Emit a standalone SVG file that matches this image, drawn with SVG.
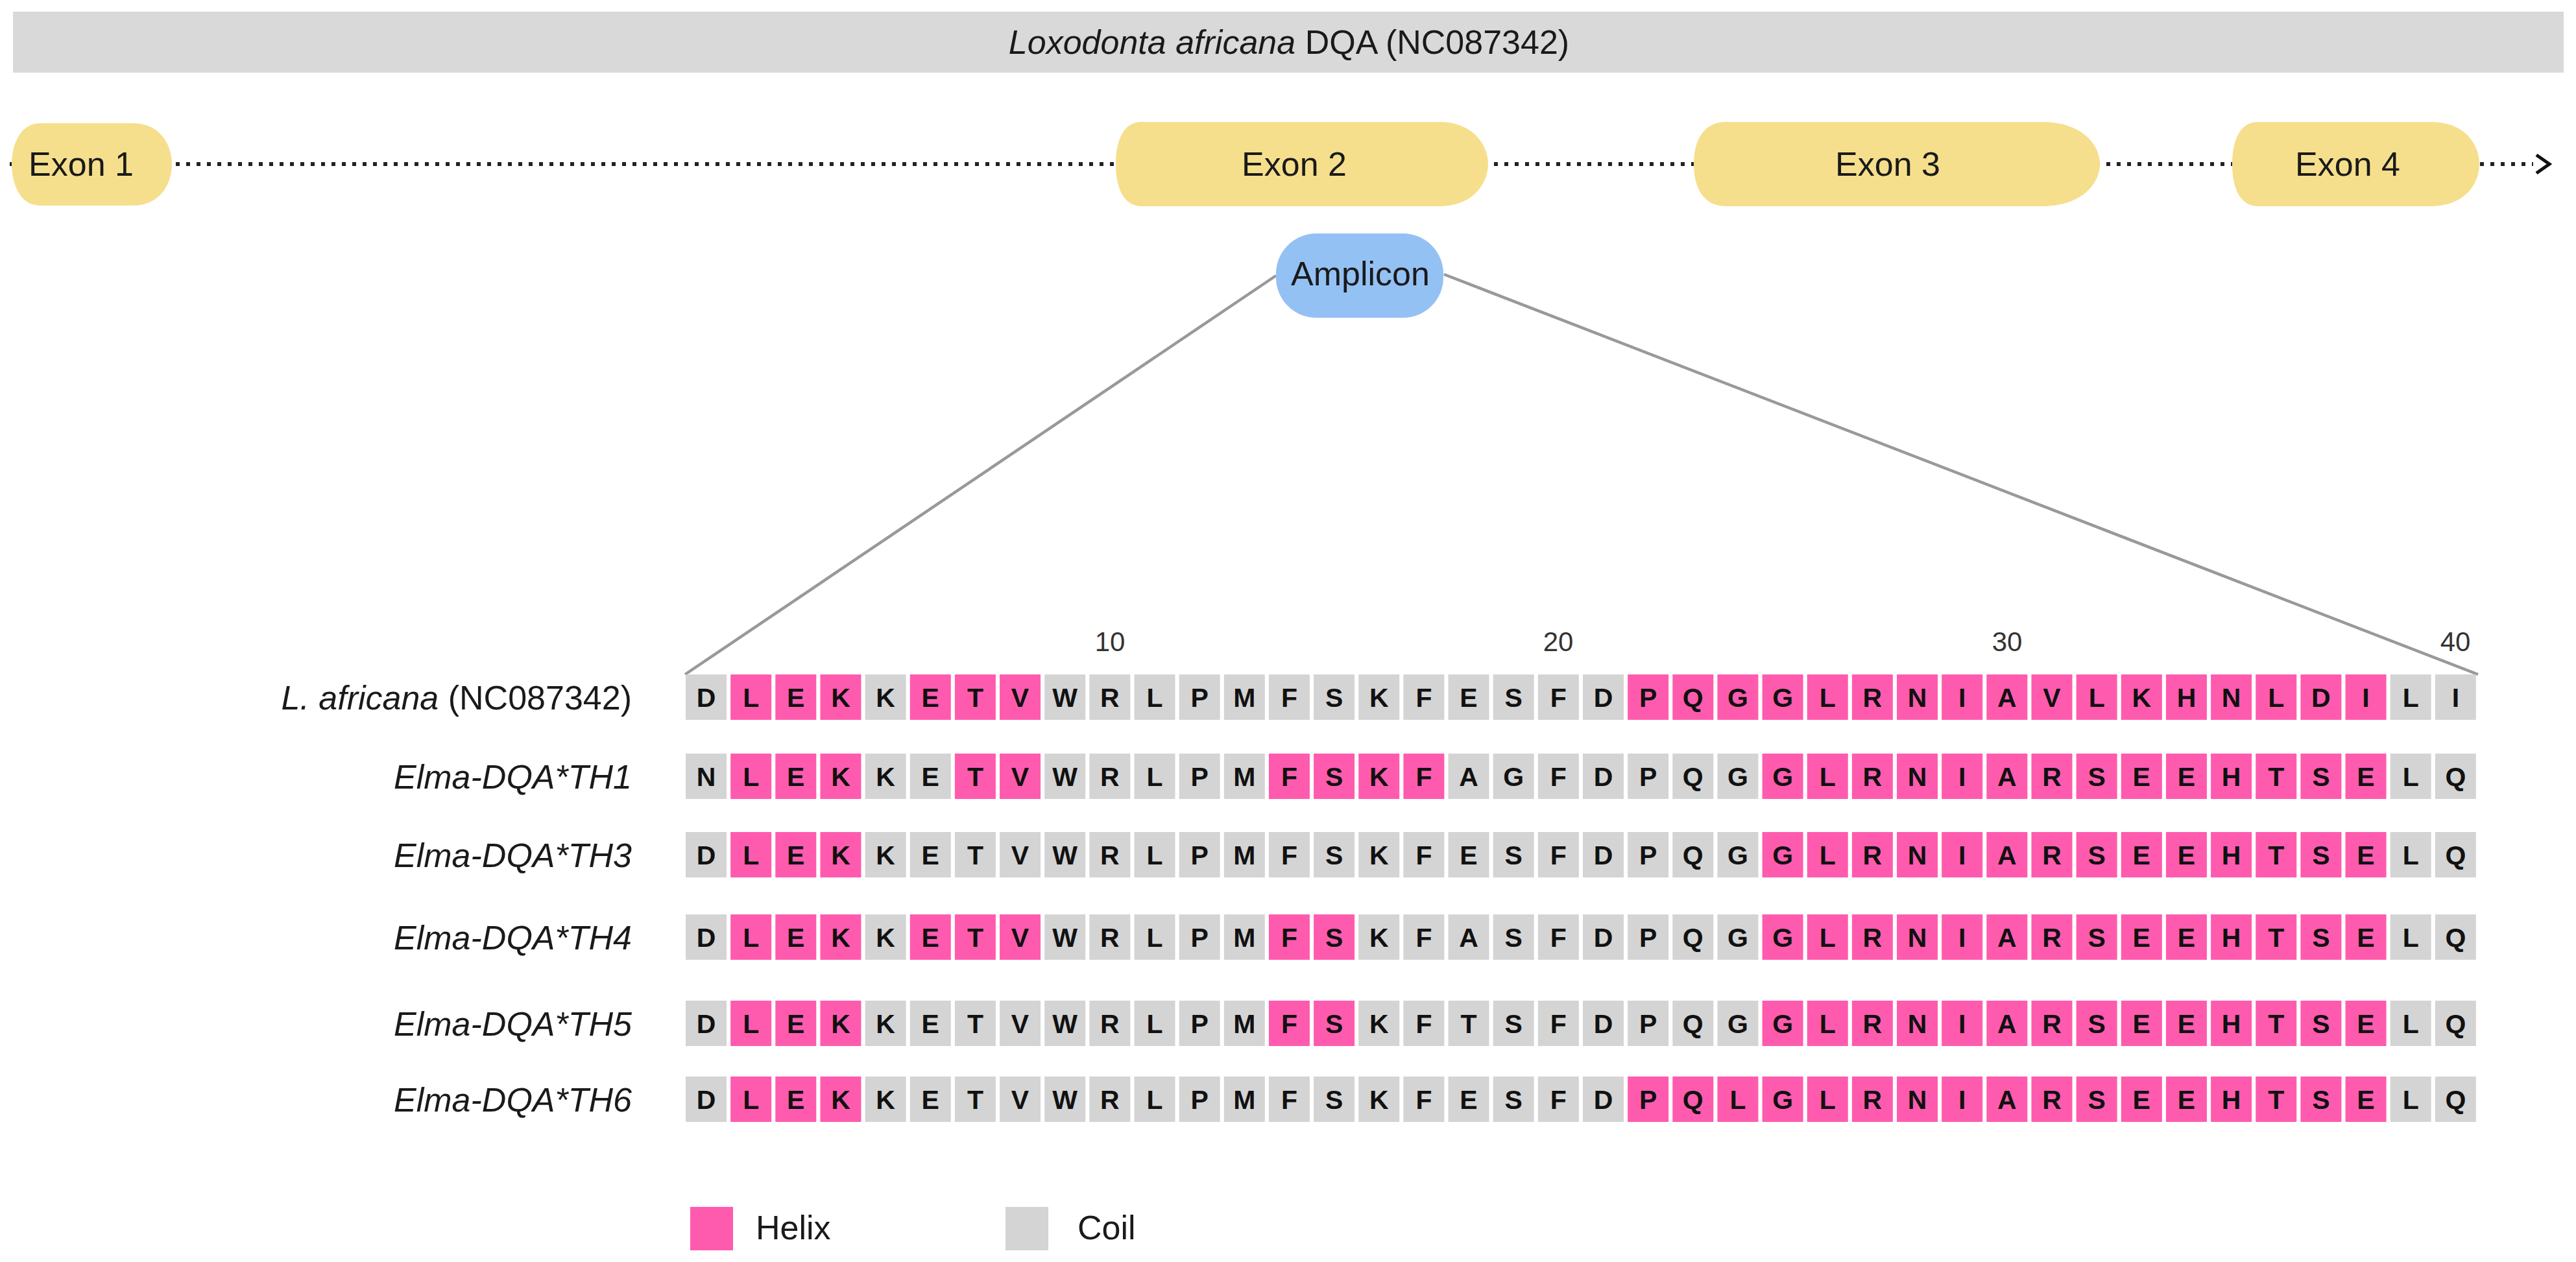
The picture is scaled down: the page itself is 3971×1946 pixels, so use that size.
<svg xmlns="http://www.w3.org/2000/svg" xmlns:xlink="http://www.w3.org/1999/xlink" width="3971" height="1946" viewBox="0 0 3971 1946">
<style>
text{font-family:"Liberation Sans",Arial,sans-serif;fill:#1a1a1a}
.t52{font-size:52px}
.lab{font-size:52px;font-style:italic;text-anchor:end}
.mid{text-anchor:middle}
.aa{font-size:41px;font-weight:bold;text-anchor:middle;fill:#111}
.num{font-size:42px;text-anchor:middle;fill:#333}
.exon{fill:#F6DF8C}
.conn{stroke:#999999;stroke-width:4.5;fill:none}
</style>
<defs>
<rect id="g" width="63" height="70" fill="#D4D4D4"/>
<rect id="p" width="63" height="70" fill="#FF5BAE"/>
</defs>
<rect width="3971" height="1946" fill="#ffffff"/>

<g id="title">
<rect x="20" y="18" width="3932" height="94" fill="#D9D9D9"/>
<text class="t52 mid" x="1987" y="83"><tspan font-style="italic">Loxodonta africana</tspan> DQA (NC087342)</text>
</g>

<g id="connectors">
<line x1="15" y1="253" x2="3905" y2="253" stroke="#222" stroke-width="6" stroke-dasharray="6 10"/>
<path d="M3910,239 L3930,253 L3910,267" stroke="#111" stroke-width="5" fill="none"/>
<line class="conn" x1="1967" y1="425" x2="1056" y2="1040"/>
<line class="conn" x1="2226" y1="423" x2="3820" y2="1040"/>
</g>

<g id="exon1">
<path class="exon" d="M62,190 H205 C248,190 265,225 265,253 C265,282 248,317 205,317 H62 C30,317 18,282 18,253 C18,225 30,190 62,190 Z"/>
<text class="t52 mid" x="125" y="271">Exon 1</text>
</g>
<g id="exon2">
<path class="exon" d="M1760,188 H2219 C2272,188 2294,225 2294,253 C2294,281 2272,318 2219,318 H1760 C1732,318 1720,290 1720,253 C1720,216 1732,188 1760,188 Z"/>
<text class="t52 mid" x="1995" y="271">Exon 2</text>
</g>
<g id="exon3">
<path class="exon" d="M2661,188 H3147 C3212,188 3237,225 3237,253 C3237,281 3212,318 3147,318 H2661 C2626,318 2611,290 2611,253 C2611,216 2626,188 2661,188 Z"/>
<text class="t52 mid" x="2910" y="271">Exon 3</text>
</g>
<g id="exon4">
<path class="exon" d="M3481,188 H3747 C3802,188 3822,225 3822,253 C3822,281 3802,318 3747,318 H3481 C3453,318 3441,290 3441,253 C3441,216 3453,188 3481,188 Z"/>
<text class="t52 mid" x="3619" y="271">Exon 4</text>
</g>

<g id="amplicon">
<rect x="1967" y="360" width="258" height="130" rx="62" fill="#94C1F4"/>
<text class="t52 mid" x="2097" y="440">Amplicon</text>
</g>

<g id="positions">
<text class="num" x="1711" y="1004">10</text>
<text class="num" x="2402" y="1004">20</text>
<text class="num" x="3094" y="1004">30</text>
<text class="num" x="3785" y="1004">40</text>
</g>

<g id="labels">
<text class="lab" x="974" y="1094">L. africana<tspan font-style="normal"> (NC087342)</tspan></text>
<text class="lab" x="974" y="1216">Elma-DQA*TH1</text>
<text class="lab" x="974" y="1337">Elma-DQA*TH3</text>
<text class="lab" x="974" y="1464">Elma-DQA*TH4</text>
<text class="lab" x="974" y="1597">Elma-DQA*TH5</text>
<text class="lab" x="974" y="1714">Elma-DQA*TH6</text>
</g>

<g id="row-africana" transform="translate(1057,1040)">
<use href="#g" x="0"/><use href="#p" x="69.15"/><use href="#p" x="138.3"/><use href="#p" x="207.45"/><use href="#g" x="276.6"/><use href="#p" x="345.75"/><use href="#p" x="414.9"/><use href="#p" x="484.05"/><use href="#g" x="553.2"/><use href="#g" x="622.35"/><use href="#g" x="691.5"/><use href="#g" x="760.65"/><use href="#g" x="829.8"/><use href="#g" x="898.95"/><use href="#g" x="968.1"/><use href="#g" x="1037.25"/><use href="#g" x="1106.4"/><use href="#g" x="1175.55"/><use href="#g" x="1244.7"/><use href="#g" x="1313.85"/><use href="#g" x="1383"/><use href="#p" x="1452.15"/><use href="#p" x="1521.3"/><use href="#p" x="1590.45"/><use href="#p" x="1659.6"/><use href="#p" x="1728.75"/><use href="#p" x="1797.9"/><use href="#p" x="1867.05"/><use href="#p" x="1936.2"/><use href="#p" x="2005.35"/><use href="#p" x="2074.5"/><use href="#p" x="2143.65"/><use href="#p" x="2212.8"/><use href="#p" x="2281.95"/><use href="#p" x="2351.1"/><use href="#p" x="2420.25"/><use href="#p" x="2489.4"/><use href="#p" x="2558.55"/><use href="#g" x="2627.7"/><use href="#g" x="2696.85"/>
<text class="aa" y="50" x="31.5 100.65 169.8 238.95 308.1 377.25 446.4 515.55 584.7 653.85 723 792.15 861.3 930.45 999.6 1068.75 1137.9 1207.05 1276.2 1345.35 1414.5 1483.65 1552.8 1621.95 1691.1 1760.25 1829.4 1898.55 1967.7 2036.85 2106 2175.15 2244.3 2313.45 2382.6 2451.75 2520.9 2590.05 2659.2 2728.35">DLEKKETVWRLPMFSKFESFDPQGGLRNIAVLKHNLDILI</text>
</g>

<g id="row-TH1" transform="translate(1057,1162)">
<use href="#g" x="0"/><use href="#p" x="69.15"/><use href="#p" x="138.3"/><use href="#p" x="207.45"/><use href="#g" x="276.6"/><use href="#g" x="345.75"/><use href="#p" x="414.9"/><use href="#p" x="484.05"/><use href="#g" x="553.2"/><use href="#g" x="622.35"/><use href="#g" x="691.5"/><use href="#g" x="760.65"/><use href="#g" x="829.8"/><use href="#p" x="898.95"/><use href="#p" x="968.1"/><use href="#p" x="1037.25"/><use href="#p" x="1106.4"/><use href="#g" x="1175.55"/><use href="#g" x="1244.7"/><use href="#g" x="1313.85"/><use href="#g" x="1383"/><use href="#g" x="1452.15"/><use href="#g" x="1521.3"/><use href="#g" x="1590.45"/><use href="#p" x="1659.6"/><use href="#p" x="1728.75"/><use href="#p" x="1797.9"/><use href="#p" x="1867.05"/><use href="#p" x="1936.2"/><use href="#p" x="2005.35"/><use href="#p" x="2074.5"/><use href="#p" x="2143.65"/><use href="#p" x="2212.8"/><use href="#p" x="2281.95"/><use href="#p" x="2351.1"/><use href="#p" x="2420.25"/><use href="#p" x="2489.4"/><use href="#p" x="2558.55"/><use href="#g" x="2627.7"/><use href="#g" x="2696.85"/>
<text class="aa" y="50" x="31.5 100.65 169.8 238.95 308.1 377.25 446.4 515.55 584.7 653.85 723 792.15 861.3 930.45 999.6 1068.75 1137.9 1207.05 1276.2 1345.35 1414.5 1483.65 1552.8 1621.95 1691.1 1760.25 1829.4 1898.55 1967.7 2036.85 2106 2175.15 2244.3 2313.45 2382.6 2451.75 2520.9 2590.05 2659.2 2728.35">NLEKKETVWRLPMFSKFAGFDPQGGLRNIARSEEHTSELQ</text>
</g>

<g id="row-TH3" transform="translate(1057,1283)">
<use href="#g" x="0"/><use href="#p" x="69.15"/><use href="#p" x="138.3"/><use href="#p" x="207.45"/><use href="#g" x="276.6"/><use href="#g" x="345.75"/><use href="#g" x="414.9"/><use href="#g" x="484.05"/><use href="#g" x="553.2"/><use href="#g" x="622.35"/><use href="#g" x="691.5"/><use href="#g" x="760.65"/><use href="#g" x="829.8"/><use href="#g" x="898.95"/><use href="#g" x="968.1"/><use href="#g" x="1037.25"/><use href="#g" x="1106.4"/><use href="#g" x="1175.55"/><use href="#g" x="1244.7"/><use href="#g" x="1313.85"/><use href="#g" x="1383"/><use href="#g" x="1452.15"/><use href="#g" x="1521.3"/><use href="#g" x="1590.45"/><use href="#p" x="1659.6"/><use href="#p" x="1728.75"/><use href="#p" x="1797.9"/><use href="#p" x="1867.05"/><use href="#p" x="1936.2"/><use href="#p" x="2005.35"/><use href="#p" x="2074.5"/><use href="#p" x="2143.65"/><use href="#p" x="2212.8"/><use href="#p" x="2281.95"/><use href="#p" x="2351.1"/><use href="#p" x="2420.25"/><use href="#p" x="2489.4"/><use href="#p" x="2558.55"/><use href="#g" x="2627.7"/><use href="#g" x="2696.85"/>
<text class="aa" y="50" x="31.5 100.65 169.8 238.95 308.1 377.25 446.4 515.55 584.7 653.85 723 792.15 861.3 930.45 999.6 1068.75 1137.9 1207.05 1276.2 1345.35 1414.5 1483.65 1552.8 1621.95 1691.1 1760.25 1829.4 1898.55 1967.7 2036.85 2106 2175.15 2244.3 2313.45 2382.6 2451.75 2520.9 2590.05 2659.2 2728.35">DLEKKETVWRLPMFSKFESFDPQGGLRNIARSEEHTSELQ</text>
</g>

<g id="row-TH4" transform="translate(1057,1410)">
<use href="#g" x="0"/><use href="#p" x="69.15"/><use href="#p" x="138.3"/><use href="#p" x="207.45"/><use href="#g" x="276.6"/><use href="#p" x="345.75"/><use href="#p" x="414.9"/><use href="#p" x="484.05"/><use href="#g" x="553.2"/><use href="#g" x="622.35"/><use href="#g" x="691.5"/><use href="#g" x="760.65"/><use href="#g" x="829.8"/><use href="#p" x="898.95"/><use href="#p" x="968.1"/><use href="#g" x="1037.25"/><use href="#g" x="1106.4"/><use href="#g" x="1175.55"/><use href="#g" x="1244.7"/><use href="#g" x="1313.85"/><use href="#g" x="1383"/><use href="#g" x="1452.15"/><use href="#g" x="1521.3"/><use href="#g" x="1590.45"/><use href="#p" x="1659.6"/><use href="#p" x="1728.75"/><use href="#p" x="1797.9"/><use href="#p" x="1867.05"/><use href="#p" x="1936.2"/><use href="#p" x="2005.35"/><use href="#p" x="2074.5"/><use href="#p" x="2143.65"/><use href="#p" x="2212.8"/><use href="#p" x="2281.95"/><use href="#p" x="2351.1"/><use href="#p" x="2420.25"/><use href="#p" x="2489.4"/><use href="#p" x="2558.55"/><use href="#g" x="2627.7"/><use href="#g" x="2696.85"/>
<text class="aa" y="50" x="31.5 100.65 169.8 238.95 308.1 377.25 446.4 515.55 584.7 653.85 723 792.15 861.3 930.45 999.6 1068.75 1137.9 1207.05 1276.2 1345.35 1414.5 1483.65 1552.8 1621.95 1691.1 1760.25 1829.4 1898.55 1967.7 2036.85 2106 2175.15 2244.3 2313.45 2382.6 2451.75 2520.9 2590.05 2659.2 2728.35">DLEKKETVWRLPMFSKFASFDPQGGLRNIARSEEHTSELQ</text>
</g>

<g id="row-TH5" transform="translate(1057,1543)">
<use href="#g" x="0"/><use href="#p" x="69.15"/><use href="#p" x="138.3"/><use href="#p" x="207.45"/><use href="#g" x="276.6"/><use href="#g" x="345.75"/><use href="#g" x="414.9"/><use href="#g" x="484.05"/><use href="#g" x="553.2"/><use href="#g" x="622.35"/><use href="#g" x="691.5"/><use href="#g" x="760.65"/><use href="#g" x="829.8"/><use href="#p" x="898.95"/><use href="#p" x="968.1"/><use href="#g" x="1037.25"/><use href="#g" x="1106.4"/><use href="#g" x="1175.55"/><use href="#g" x="1244.7"/><use href="#g" x="1313.85"/><use href="#g" x="1383"/><use href="#g" x="1452.15"/><use href="#g" x="1521.3"/><use href="#g" x="1590.45"/><use href="#p" x="1659.6"/><use href="#p" x="1728.75"/><use href="#p" x="1797.9"/><use href="#p" x="1867.05"/><use href="#p" x="1936.2"/><use href="#p" x="2005.35"/><use href="#p" x="2074.5"/><use href="#p" x="2143.65"/><use href="#p" x="2212.8"/><use href="#p" x="2281.95"/><use href="#p" x="2351.1"/><use href="#p" x="2420.25"/><use href="#p" x="2489.4"/><use href="#p" x="2558.55"/><use href="#g" x="2627.7"/><use href="#g" x="2696.85"/>
<text class="aa" y="50" x="31.5 100.65 169.8 238.95 308.1 377.25 446.4 515.55 584.7 653.85 723 792.15 861.3 930.45 999.6 1068.75 1137.9 1207.05 1276.2 1345.35 1414.5 1483.65 1552.8 1621.95 1691.1 1760.25 1829.4 1898.55 1967.7 2036.85 2106 2175.15 2244.3 2313.45 2382.6 2451.75 2520.9 2590.05 2659.2 2728.35">DLEKKETVWRLPMFSKFTSFDPQGGLRNIARSEEHTSELQ</text>
</g>

<g id="row-TH6" transform="translate(1057,1660)">
<use href="#g" x="0"/><use href="#p" x="69.15"/><use href="#p" x="138.3"/><use href="#p" x="207.45"/><use href="#g" x="276.6"/><use href="#g" x="345.75"/><use href="#g" x="414.9"/><use href="#g" x="484.05"/><use href="#g" x="553.2"/><use href="#g" x="622.35"/><use href="#g" x="691.5"/><use href="#g" x="760.65"/><use href="#g" x="829.8"/><use href="#g" x="898.95"/><use href="#g" x="968.1"/><use href="#g" x="1037.25"/><use href="#g" x="1106.4"/><use href="#g" x="1175.55"/><use href="#g" x="1244.7"/><use href="#g" x="1313.85"/><use href="#g" x="1383"/><use href="#p" x="1452.15"/><use href="#p" x="1521.3"/><use href="#p" x="1590.45"/><use href="#p" x="1659.6"/><use href="#p" x="1728.75"/><use href="#p" x="1797.9"/><use href="#p" x="1867.05"/><use href="#p" x="1936.2"/><use href="#p" x="2005.35"/><use href="#p" x="2074.5"/><use href="#p" x="2143.65"/><use href="#p" x="2212.8"/><use href="#p" x="2281.95"/><use href="#p" x="2351.1"/><use href="#p" x="2420.25"/><use href="#p" x="2489.4"/><use href="#p" x="2558.55"/><use href="#g" x="2627.7"/><use href="#g" x="2696.85"/>
<text class="aa" y="50" x="31.5 100.65 169.8 238.95 308.1 377.25 446.4 515.55 584.7 653.85 723 792.15 861.3 930.45 999.6 1068.75 1137.9 1207.05 1276.2 1345.35 1414.5 1483.65 1552.8 1621.95 1691.1 1760.25 1829.4 1898.55 1967.7 2036.85 2106 2175.15 2244.3 2313.45 2382.6 2451.75 2520.9 2590.05 2659.2 2728.35">DLEKKETVWRLPMFSKFESFDPQLGLRNIARSEEHTSELQ</text>
</g>

<g id="legend">
<rect x="1064" y="1861" width="66" height="67" fill="#FF5BAE"/>
<text class="t52" x="1165" y="1911">Helix</text>
<rect x="1550" y="1861" width="66" height="67" fill="#D4D4D4"/>
<text class="t52" x="1661" y="1911">Coil</text>
</g>
</svg>
